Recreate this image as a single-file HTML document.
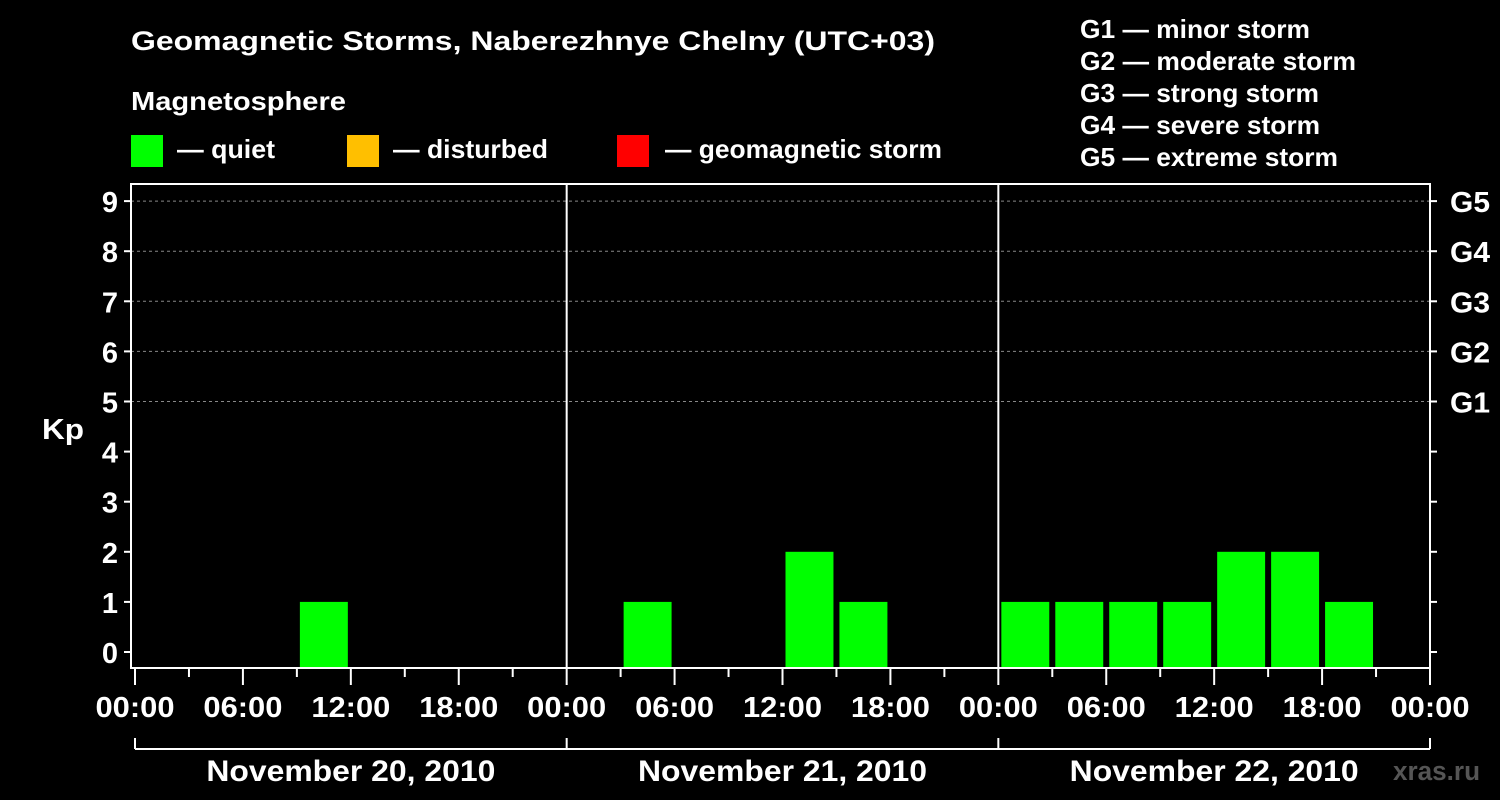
<!DOCTYPE html>
<html><head><meta charset="utf-8"><style>
html,body{margin:0;padding:0;background:#000;width:1500px;height:800px;overflow:hidden}
svg text{font-family:"Liberation Sans",Arial,sans-serif;font-weight:bold;fill:#fff}
</style></head><body>
<svg id="chart" width="1500" height="800" xmlns="http://www.w3.org/2000/svg">
<text x="131" y="50" font-size="27" textLength="804" lengthAdjust="spacingAndGlyphs">Geomagnetic Storms, Naberezhnye Chelny (UTC+03)</text>
<text x="131" y="110" font-size="26" textLength="215" lengthAdjust="spacingAndGlyphs">Magnetosphere</text>
<g><rect x="131" y="135" width="32" height="32" fill="#00ff00"/><text x="177" y="158" font-size="26" textLength="98" lengthAdjust="spacingAndGlyphs">— quiet</text></g>
<g><rect x="347" y="135" width="32" height="32" fill="#ffbf00"/><text x="393" y="158" font-size="26" textLength="155" lengthAdjust="spacingAndGlyphs">— disturbed</text></g>
<g><rect x="617" y="135" width="32" height="32" fill="#ff0000"/><text x="665" y="158" font-size="26" textLength="277" lengthAdjust="spacingAndGlyphs">— geomagnetic storm</text></g>
<g font-size="26">
<text x="1080" y="38" textLength="230" lengthAdjust="spacingAndGlyphs">G1 — minor storm</text>
<text x="1080" y="70" textLength="276" lengthAdjust="spacingAndGlyphs">G2 — moderate storm</text>
<text x="1080" y="102" textLength="239" lengthAdjust="spacingAndGlyphs">G3 — strong storm</text>
<text x="1080" y="134" textLength="240" lengthAdjust="spacingAndGlyphs">G4 — severe storm</text>
<text x="1080" y="166" textLength="258" lengthAdjust="spacingAndGlyphs">G5 — extreme storm</text>
</g>
<text x="42" y="439" font-size="29" textLength="42" lengthAdjust="spacingAndGlyphs">Kp</text>
<text x="1393" y="780" font-size="27" textLength="87" lengthAdjust="spacingAndGlyphs" style="fill:#555">xras.ru</text>
<g id="grid"></g><g id="bars"></g><g id="axes"></g>
</svg>
<script>
const days = ["November 20, 2010","November 21, 2010","November 22, 2010"];
const kpDay1 = [0,0,0,1,0,0,0,0];
const kpDay2 = [0,1,0,0,2,1,0,0];
const kpDay3 = [1,1,1,1,2,2,1,0];
const yTicks = [0,1,2,3,4,5,6,7,8,9];
const gLabels = ["G1","G2","G3","G4","G5"];
const xTickLabels = ["00:00","06:00","12:00","18:00"];
const NS="http://www.w3.org/2000/svg";
const X0=135, PXH=(1430-135)/72, Y0=652, PXK=50.1, TOP=184, BOT=668, L=131, R=1430;
const x=h=>X0+h*PXH, y=k=>Y0-k*PXK;
function mk(tag,attrs,parent,txt){const e=document.createElementNS(NS,tag);for(const k in attrs)e.setAttribute(k,attrs[k]);if(txt!==undefined)e.textContent=txt;parent.appendChild(e);return e;}
const grid=document.getElementById('grid'),bars=document.getElementById('bars'),axes=document.getElementById('axes');
for(let k=5;k<=9;k++){const l=mk('line',{x1:L,x2:R,y1:y(k),y2:y(k),stroke:'#888','stroke-dasharray':'3,3','stroke-width':1},grid);

}
const all=[kpDay1,kpDay2,kpDay3];
all.forEach((arr,d)=>arr.forEach((v,i)=>{if(v<=0)return;const h=d*24+i*3;
const r=mk('rect',{x:x(h)+3,y:y(v),width:PXH*3-6,height:BOT-y(v),fill:v>=5?'#ff0000':(v>=4?'#ffbf00':'#00ff00')},bars);

}));
const f=mk('rect',{x:L,y:TOP,width:R-L,height:BOT-TOP,fill:'none',stroke:'#fff','stroke-width':2},axes);


for(let d=1;d<3;d++){const l=mk('line',{x1:x(d*24),x2:x(d*24),y1:TOP,y2:BOT,stroke:'#fff','stroke-width':2},axes);

}
yTicks.forEach(k=>{mk('line',{x1:L-7,x2:L,y1:y(k),y2:y(k),stroke:'#fff','stroke-width':2},axes);
mk('line',{x1:R,x2:R+7,y1:y(k),y2:y(k),stroke:'#fff','stroke-width':2},axes);
const t=mk('text',{x:118,y:y(k)+11,'font-size':29,'text-anchor':'end'},axes,String(k));

});
gLabels.forEach((g,i)=>{const t=mk('text',{x:1450,y:y(5+i)+11,'font-size':29,textLength:40,lengthAdjust:'spacingAndGlyphs'},axes,g);

});
for(let h=0;h<=72;h+=3){const long=h%6===0;mk('line',{x1:x(h),x2:x(h),y1:BOT,y2:BOT+(long?17:9),stroke:'#fff','stroke-width':2},axes);
if(long){const t=mk('text',{x:x(h),y:717,'font-size':29,'text-anchor':'middle',textLength:79,lengthAdjust:'spacingAndGlyphs'},axes,xTickLabels[(h/6)%4]);

}}
mk('line',{x1:x(0),x2:x(72),y1:749,y2:749,stroke:'#fff','stroke-width':2},axes);
for(let d=0;d<=3;d++)mk('line',{x1:x(d*24),x2:x(d*24),y1:738,y2:749,stroke:'#fff','stroke-width':2},axes);
days.forEach((s,d)=>{const t=mk('text',{x:x(d*24+12),y:781,'font-size':30,'text-anchor':'middle',textLength:289,lengthAdjust:'spacingAndGlyphs'},axes,s);

});
</script>
</body></html>
